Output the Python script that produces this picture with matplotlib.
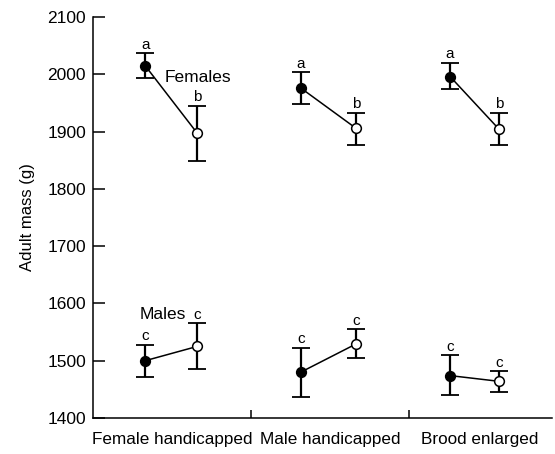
import matplotlib.pyplot as plt
import numpy as np

plt.rcParams['font.family'] = ['Liberation Sans', 'DejaVu Sans']

# datos
grupos = ['Female handicapped', 'Male handicapped', 'Brood enlarged']

# hembras: control (relleno) y tratamiento (abierto)
hem_media = [[2015, 1897], [1976, 1906], [1996, 1904]]
hem_sup = [[2037, 1945], [2004, 1933], [2020, 1933]]
hem_inf = [[1994, 1848], [1948, 1877], [1974, 1877]]
hem_letras = [['a', 'b'], ['a', 'b'], ['a', 'b']]

# machos
mac_media = [[1500, 1525], [1480, 1529], [1474, 1464]]
mac_sup = [[1528, 1566], [1523, 1555], [1510, 1482]]
mac_inf = [[1472, 1485], [1436, 1504], [1440, 1445]]
mac_letras = [['c', 'c'], ['c', 'c'], ['c', 'c']]

# posicion horizontal de cada par dentro de su grupo
pos_x = [[0.33, 0.66], [1.315, 1.663], [2.26, 2.57]]

fig = plt.figure(figsize=(5.55, 4.54), dpi=100)
ax = fig.add_axes([0.1676, 0.0793, 0.827, 0.8833])


def dibujar(media, sup, inf, letras):
    for i in range(len(grupos)):
        xs = pos_x[i]
        ys = media[i]
        ax.plot(xs, ys, color='black', lw=1.1, zorder=2)
        for j in range(2):
            err = [[ys[j] - inf[i][j]], [sup[i][j] - ys[j]]]
            ax.errorbar(xs[j], ys[j], yerr=err, fmt='none', ecolor='black',
                        elinewidth=1.6, capsize=6.5, capthick=1.3, zorder=1)
            relleno = 'black' if j == 0 else 'white'
            ax.plot(xs[j], ys[j], 'o', ms=7, mfc=relleno, mec='black',
                    mew=1.1, zorder=3)
            ax.annotate(letras[i][j], (xs[j], sup[i][j]), xytext=(0, 1),
                        textcoords='offset points', ha='center', va='bottom',
                        fontsize=11)


dibujar(hem_media, hem_sup, hem_inf, hem_letras)
dibujar(mac_media, mac_sup, mac_inf, mac_letras)

ax.text(0.455, 1995, 'Females', fontsize=12.5, ha='left', va='center')
ax.text(0.295, 1580, 'Males', fontsize=12.5, ha='left', va='center')

ax.set_xlim(0, 2.905)
ax.set_ylim(1400, 2100)
ax.set_yticks(np.arange(1400, 2101, 100))
ax.set_xticks([1, 2])
ax.set_xticklabels([])
ax.tick_params(axis='y', direction='in', length=8.5, width=1.1, labelsize=12.5,
               pad=5)
ax.tick_params(axis='x', direction='in', length=6, width=1.1)
for k, nombre in enumerate(grupos):
    centro = [0.5, 1.5, 2.45][k]
    ax.text(centro, 1362, nombre, ha='center', va='center', fontsize=12.3)

ax.spines['top'].set_visible(False)
ax.spines['right'].set_visible(False)
ax.spines['left'].set_linewidth(1.1)
ax.spines['bottom'].set_linewidth(1.1)
ax.set_ylabel('Adult mass (g)', fontsize=12, labelpad=9)

fig.savefig('out.png', dpi=100)
